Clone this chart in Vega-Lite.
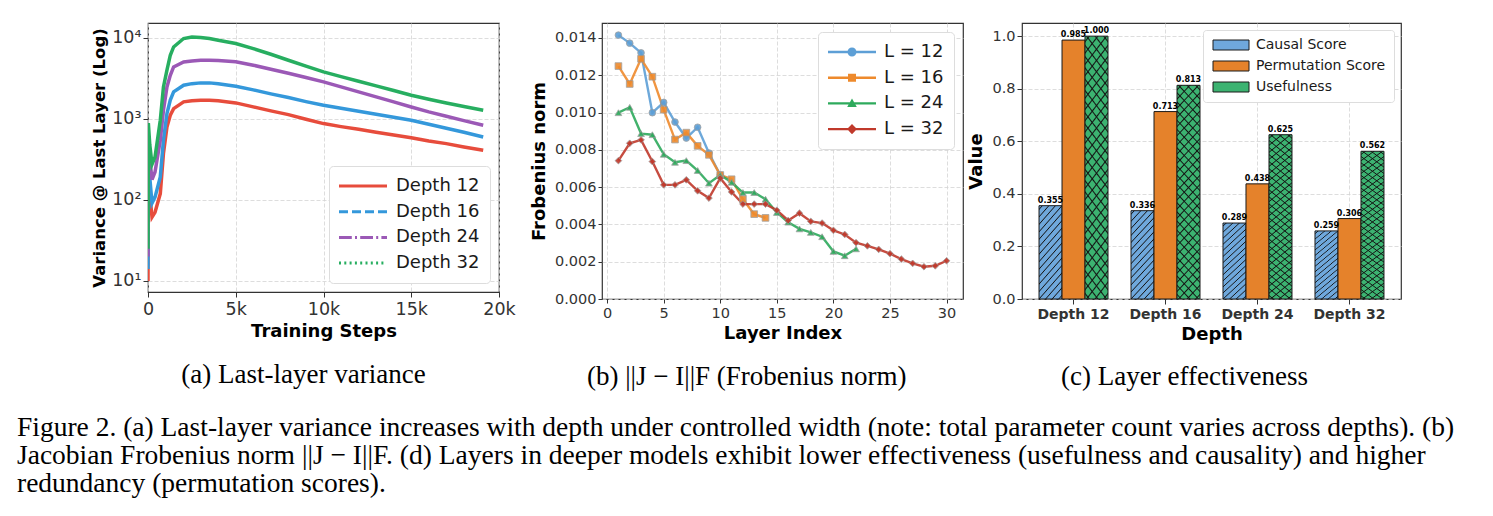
{
  "$schema": "https://vega.github.io/schema/vega-lite/v6.json",
  "background": "white",
  "padding": {"left": 17, "top": 22, "right": 8, "bottom": 6},
  "config": {
    "font": "DejaVu Sans",
    "view": {"stroke": "#333333", "strokeWidth": 1.2},
    "axis": {
      "domain": false, "grid": true, "gridColor": "#d4d4d4", "gridDash": [4, 2], "gridWidth": 0.8,
      "tickColor": "#333333", "tickSize": 5, "tickWidth": 1, "labelFlush": false,
      "labelColor": "#333333", "titleColor": "#000000", "titleFontWeight": "bold",
      "labelFont": "DejaVu Sans", "titleFont": "DejaVu Sans"
    },
    "legend": {"labelFont": "DejaVu Sans", "labelColor": "#1a1a1a"}
  },
  "title": {
    "text": [
      "Figure 2. (a) Last-layer variance increases with depth under controlled width (note: total parameter count varies across depths). (b)",
      "Jacobian Frobenius norm ||J − I||F. (d) Layers in deeper models exhibit lower effectiveness (usefulness and causality) and higher",
      "redundancy (permutation scores)."
    ],
    "orient": "bottom", "anchor": "start", "frame": "group", "dx": -131, "offset": 23,
    "font": "Liberation Serif", "fontSize": 27.5, "fontWeight": "normal", "lineHeight": 28, "color": "#000000"
  },
  "resolve": {"scale": {"color": "independent", "shape": "independent"}, "legend": {"color": "independent", "shape": "independent"}},
  "datasets": {
    "variance": [
      {"d": "Depth 12", "t": 0, "v": 10}, {"d": "Depth 12", "t": 20, "v": 250}, {"d": "Depth 12", "t": 100, "v": 120}, {"d": "Depth 12", "t": 228, "v": 61}, {"d": "Depth 12", "t": 400, "v": 70}, {"d": "Depth 12", "t": 700, "v": 119}, {"d": "Depth 12", "t": 880, "v": 371}, {"d": "Depth 12", "t": 1080, "v": 790}, {"d": "Depth 12", "t": 1270, "v": 1102}, {"d": "Depth 12", "t": 1460, "v": 1330}, {"d": "Depth 12", "t": 2030, "v": 1610}, {"d": "Depth 12", "t": 2500, "v": 1660}, {"d": "Depth 12", "t": 3000, "v": 1690}, {"d": "Depth 12", "t": 3500, "v": 1690}, {"d": "Depth 12", "t": 4000, "v": 1660}, {"d": "Depth 12", "t": 5000, "v": 1563}, {"d": "Depth 12", "t": 6000, "v": 1396}, {"d": "Depth 12", "t": 7000, "v": 1246}, {"d": "Depth 12", "t": 8000, "v": 1122}, {"d": "Depth 12", "t": 9000, "v": 984}, {"d": "Depth 12", "t": 10000, "v": 869}, {"d": "Depth 12", "t": 11000, "v": 798}, {"d": "Depth 12", "t": 12000, "v": 739}, {"d": "Depth 12", "t": 13000, "v": 679}, {"d": "Depth 12", "t": 14000, "v": 630}, {"d": "Depth 12", "t": 15000, "v": 583}, {"d": "Depth 12", "t": 16000, "v": 531}, {"d": "Depth 12", "t": 17000, "v": 492}, {"d": "Depth 12", "t": 18000, "v": 448}, {"d": "Depth 12", "t": 19100, "v": 407},
      {"d": "Depth 16", "t": 0, "v": 14}, {"d": "Depth 16", "t": 20, "v": 400}, {"d": "Depth 16", "t": 100, "v": 190}, {"d": "Depth 16", "t": 228, "v": 91}, {"d": "Depth 16", "t": 400, "v": 108}, {"d": "Depth 16", "t": 700, "v": 191}, {"d": "Depth 16", "t": 880, "v": 541}, {"d": "Depth 16", "t": 1080, "v": 1156}, {"d": "Depth 16", "t": 1270, "v": 1690}, {"d": "Depth 16", "t": 1460, "v": 2136}, {"d": "Depth 16", "t": 2030, "v": 2580}, {"d": "Depth 16", "t": 2500, "v": 2700}, {"d": "Depth 16", "t": 3000, "v": 2760}, {"d": "Depth 16", "t": 3500, "v": 2760}, {"d": "Depth 16", "t": 4000, "v": 2700}, {"d": "Depth 16", "t": 5000, "v": 2512}, {"d": "Depth 16", "t": 6000, "v": 2262}, {"d": "Depth 16", "t": 7000, "v": 2018}, {"d": "Depth 16", "t": 8000, "v": 1819}, {"d": "Depth 16", "t": 9000, "v": 1622}, {"d": "Depth 16", "t": 10000, "v": 1462}, {"d": "Depth 16", "t": 11000, "v": 1343}, {"d": "Depth 16", "t": 12000, "v": 1233}, {"d": "Depth 16", "t": 13000, "v": 1132}, {"d": "Depth 16", "t": 14000, "v": 1040}, {"d": "Depth 16", "t": 15000, "v": 955}, {"d": "Depth 16", "t": 16000, "v": 853}, {"d": "Depth 16", "t": 17000, "v": 762}, {"d": "Depth 16", "t": 18000, "v": 679}, {"d": "Depth 16", "t": 19100, "v": 595},
      {"d": "Depth 24", "t": 0, "v": 20}, {"d": "Depth 24", "t": 20, "v": 600}, {"d": "Depth 24", "t": 100, "v": 330}, {"d": "Depth 24", "t": 228, "v": 177}, {"d": "Depth 24", "t": 400, "v": 220}, {"d": "Depth 24", "t": 700, "v": 541}, {"d": "Depth 24", "t": 880, "v": 1270}, {"d": "Depth 24", "t": 1080, "v": 2460}, {"d": "Depth 24", "t": 1270, "v": 3425}, {"d": "Depth 24", "t": 1460, "v": 4340}, {"d": "Depth 24", "t": 2030, "v": 5000}, {"d": "Depth 24", "t": 2500, "v": 5150}, {"d": "Depth 24", "t": 3000, "v": 5250}, {"d": "Depth 24", "t": 3500, "v": 5250}, {"d": "Depth 24", "t": 4000, "v": 5200}, {"d": "Depth 24", "t": 5000, "v": 5012}, {"d": "Depth 24", "t": 6000, "v": 4560}, {"d": "Depth 24", "t": 7000, "v": 4070}, {"d": "Depth 24", "t": 8000, "v": 3630}, {"d": "Depth 24", "t": 9000, "v": 3210}, {"d": "Depth 24", "t": 10000, "v": 2837}, {"d": "Depth 24", "t": 11000, "v": 2460}, {"d": "Depth 24", "t": 12000, "v": 2138}, {"d": "Depth 24", "t": 13000, "v": 1854}, {"d": "Depth 24", "t": 14000, "v": 1607}, {"d": "Depth 24", "t": 15000, "v": 1393}, {"d": "Depth 24", "t": 16000, "v": 1211}, {"d": "Depth 24", "t": 17000, "v": 1069}, {"d": "Depth 24", "t": 18000, "v": 946}, {"d": "Depth 24", "t": 19100, "v": 828},
      {"d": "Depth 32", "t": 0, "v": 25}, {"d": "Depth 32", "t": 20, "v": 880}, {"d": "Depth 32", "t": 100, "v": 480}, {"d": "Depth 32", "t": 228, "v": 274}, {"d": "Depth 32", "t": 400, "v": 337}, {"d": "Depth 32", "t": 700, "v": 955}, {"d": "Depth 32", "t": 880, "v": 2460}, {"d": "Depth 32", "t": 1080, "v": 3953}, {"d": "Depth 32", "t": 1270, "v": 6050}, {"d": "Depth 32", "t": 1460, "v": 7650}, {"d": "Depth 32", "t": 2030, "v": 9720}, {"d": "Depth 32", "t": 2500, "v": 10150}, {"d": "Depth 32", "t": 3000, "v": 10000}, {"d": "Depth 32", "t": 3500, "v": 9700}, {"d": "Depth 32", "t": 4000, "v": 9270}, {"d": "Depth 32", "t": 5000, "v": 8430}, {"d": "Depth 32", "t": 6000, "v": 7310}, {"d": "Depth 32", "t": 7000, "v": 6220}, {"d": "Depth 32", "t": 8000, "v": 5250}, {"d": "Depth 32", "t": 9000, "v": 4430}, {"d": "Depth 32", "t": 10000, "v": 3770}, {"d": "Depth 32", "t": 11000, "v": 3300}, {"d": "Depth 32", "t": 12000, "v": 2890}, {"d": "Depth 32", "t": 13000, "v": 2535}, {"d": "Depth 32", "t": 14000, "v": 2220}, {"d": "Depth 32", "t": 15000, "v": 1945}, {"d": "Depth 32", "t": 16000, "v": 1735}, {"d": "Depth 32", "t": 17000, "v": 1563}, {"d": "Depth 32", "t": 18000, "v": 1410}, {"d": "Depth 32", "t": 19100, "v": 1270}
    ],
    "frobenius": [
      {"L": "L = 12", "layer": 1, "v": 0.01415}, {"L": "L = 12", "layer": 2, "v": 0.01372}, {"L": "L = 12", "layer": 3, "v": 0.0132}, {"L": "L = 12", "layer": 4, "v": 0.00999}, {"L": "L = 12", "layer": 5, "v": 0.01054}, {"L": "L = 12", "layer": 6, "v": 0.00949}, {"L": "L = 12", "layer": 7, "v": 0.00863}, {"L": "L = 12", "layer": 8, "v": 0.00921}, {"L": "L = 12", "layer": 9, "v": 0.00783}, {"L": "L = 12", "layer": 10, "v": 0.00665},
      {"L": "L = 16", "layer": 1, "v": 0.01249}, {"L": "L = 16", "layer": 2, "v": 0.01153}, {"L": "L = 16", "layer": 3, "v": 0.01288}, {"L": "L = 16", "layer": 4, "v": 0.01192}, {"L": "L = 16", "layer": 5, "v": 0.01015}, {"L": "L = 16", "layer": 6, "v": 0.00855}, {"L": "L = 16", "layer": 7, "v": 0.00892}, {"L": "L = 16", "layer": 8, "v": 0.00821}, {"L": "L = 16", "layer": 9, "v": 0.00773}, {"L": "L = 16", "layer": 10, "v": 0.00665}, {"L": "L = 16", "layer": 11, "v": 0.00642}, {"L": "L = 16", "layer": 12, "v": 0.00535}, {"L": "L = 16", "layer": 13, "v": 0.00455}, {"L": "L = 16", "layer": 14, "v": 0.00435},
      {"L": "L = 24", "layer": 1, "v": 0.00999}, {"L": "L = 24", "layer": 2, "v": 0.01028}, {"L": "L = 24", "layer": 3, "v": 0.00887}, {"L": "L = 24", "layer": 4, "v": 0.00881}, {"L": "L = 24", "layer": 5, "v": 0.00776}, {"L": "L = 24", "layer": 6, "v": 0.00733}, {"L": "L = 24", "layer": 7, "v": 0.00742}, {"L": "L = 24", "layer": 8, "v": 0.00689}, {"L": "L = 24", "layer": 9, "v": 0.00621}, {"L": "L = 24", "layer": 10, "v": 0.00665}, {"L": "L = 24", "layer": 11, "v": 0.00626}, {"L": "L = 24", "layer": 12, "v": 0.00571}, {"L": "L = 24", "layer": 13, "v": 0.00571}, {"L": "L = 24", "layer": 14, "v": 0.00535}, {"L": "L = 24", "layer": 15, "v": 0.00464}, {"L": "L = 24", "layer": 16, "v": 0.00412}, {"L": "L = 24", "layer": 17, "v": 0.00376}, {"L": "L = 24", "layer": 18, "v": 0.00357}, {"L": "L = 24", "layer": 19, "v": 0.00334}, {"L": "L = 24", "layer": 20, "v": 0.00255}, {"L": "L = 24", "layer": 21, "v": 0.00232}, {"L": "L = 24", "layer": 22, "v": 0.00269},
      {"L": "L = 32", "layer": 1, "v": 0.00742}, {"L": "L = 32", "layer": 2, "v": 0.00835}, {"L": "L = 32", "layer": 3, "v": 0.00853}, {"L": "L = 32", "layer": 4, "v": 0.00737}, {"L": "L = 32", "layer": 5, "v": 0.00612}, {"L": "L = 32", "layer": 6, "v": 0.00612}, {"L": "L = 32", "layer": 7, "v": 0.00639}, {"L": "L = 32", "layer": 8, "v": 0.0058}, {"L": "L = 32", "layer": 9, "v": 0.00541}, {"L": "L = 32", "layer": 10, "v": 0.00648}, {"L": "L = 32", "layer": 11, "v": 0.00574}, {"L": "L = 32", "layer": 12, "v": 0.00509}, {"L": "L = 32", "layer": 13, "v": 0.00509}, {"L": "L = 32", "layer": 14, "v": 0.00509}, {"L": "L = 32", "layer": 15, "v": 0.00476}, {"L": "L = 32", "layer": 16, "v": 0.00421}, {"L": "L = 32", "layer": 17, "v": 0.0046}, {"L": "L = 32", "layer": 18, "v": 0.00416}, {"L": "L = 32", "layer": 19, "v": 0.00407}, {"L": "L = 32", "layer": 20, "v": 0.00368}, {"L": "L = 32", "layer": 21, "v": 0.00346}, {"L": "L = 32", "layer": 22, "v": 0.00302}, {"L": "L = 32", "layer": 23, "v": 0.00285}, {"L": "L = 32", "layer": 24, "v": 0.00266}, {"L": "L = 32", "layer": 25, "v": 0.00243}, {"L": "L = 32", "layer": 26, "v": 0.00214}, {"L": "L = 32", "layer": 27, "v": 0.00191}, {"L": "L = 32", "layer": 28, "v": 0.00173}, {"L": "L = 32", "layer": 29, "v": 0.00178}, {"L": "L = 32", "layer": 30, "v": 0.00205}
    ],
    "effectiveness": [
      {"depth": "Depth 12", "metric": "Causal Score", "value": 0.355}, {"depth": "Depth 12", "metric": "Permutation Score", "value": 0.985}, {"depth": "Depth 12", "metric": "Usefulness", "value": 1.0},
      {"depth": "Depth 16", "metric": "Causal Score", "value": 0.336}, {"depth": "Depth 16", "metric": "Permutation Score", "value": 0.713}, {"depth": "Depth 16", "metric": "Usefulness", "value": 0.813},
      {"depth": "Depth 24", "metric": "Causal Score", "value": 0.289}, {"depth": "Depth 24", "metric": "Permutation Score", "value": 0.438}, {"depth": "Depth 24", "metric": "Usefulness", "value": 0.625},
      {"depth": "Depth 32", "metric": "Causal Score", "value": 0.259}, {"depth": "Depth 32", "metric": "Permutation Score", "value": 0.306}, {"depth": "Depth 32", "metric": "Usefulness", "value": 0.562}
    ]
  },
  "spacing": 13,
  "hconcat": [
    {
      "width": 351,
      "height": 269,
      "title": {"text": "(a) Last-layer variance", "orient": "bottom", "anchor": "middle", "frame": "bounds", "offset": 21, "font": "Liberation Serif", "fontSize": 27, "fontWeight": "normal", "color": "#000000"},
      "data": {"name": "variance"},
      "encoding": {
        "x": {"field": "t", "type": "quantitative",
          "scale": {"domain": [0, 20000], "nice": false, "zero": false},
          "axis": {"values": [0, 5000, 10000, 15000, 20000], "labelExpr": "datum.value == 0 ? '0' : (datum.value / 1000) + 'k'", "title": "Training Steps", "labelFontSize": 17.5, "titleFontSize": 18, "labelPadding": 3, "titlePadding": 5}},
        "y": {"field": "v", "type": "quantitative",
          "scale": {"type": "log", "domain": [7.3, 15100], "nice": false},
          "axis": {"values": [10, 100, 1000, 10000], "labelExpr": "datum.value == 10 ? '10¹' : datum.value == 100 ? '10²' : datum.value == 1000 ? '10³' : '10⁴'", "title": "Variance @ Last Layer (Log)", "labelFontSize": 17.5, "titleFontSize": 16.5, "titlePadding": 4}}
      },
      "layer": [
        {
          "mark": {"type": "line", "strokeWidth": 3.5, "clip": true},
          "encoding": {
            "color": {"field": "d", "type": "nominal",
              "scale": {"domain": ["Depth 12", "Depth 16", "Depth 24", "Depth 32"], "range": ["#e74c3c", "#3498db", "#9b59b6", "#27ae60"]},
              "legend": null}
          }
        },
        {
          "transform": [{"filter": "false"}],
          "mark": {"type": "point", "filled": true, "size": 400, "opacity": 1},
          "encoding": {
            "color": {"field": "d", "type": "nominal",
              "scale": {"domain": ["Depth 12", "Depth 16", "Depth 24", "Depth 32"], "range": ["#e74c3c", "#3498db", "#9b59b6", "#27ae60"]},
              "legend": {"title": null, "orient": "bottom-right", "offset": 9, "fillColor": "white", "strokeColor": "#dddddd", "cornerRadius": 4, "padding": 10, "labelFontSize": 18, "symbolSize": 400, "symbolOpacity": 1, "symbolStrokeWidth": 0, "labelOffset": 37, "rowPadding": 6.7}},
            "shape": {"field": "d", "type": "nominal",
              "scale": {"domain": ["Depth 12", "Depth 16", "Depth 24", "Depth 32"],
                "range": [
                  "M-1,-0.15H3.8V0.15H-1Z",
                  "M-1,-0.15H-0.1V0.15H-1ZM0.3,-0.15H1.2V0.15H0.3ZM1.6,-0.15H2.5V0.15H1.6ZM2.9,-0.15H3.8V0.15H2.9Z",
                  "M-1,-0.15H0.28V0.15H-1ZM0.6,-0.15H0.8V0.15H0.6ZM1.12,-0.15H2.4V0.15H1.12ZM2.72,-0.15H2.92V0.15H2.72ZM3.24,-0.15H3.8V0.15H3.24Z",
                  "M-1,-0.15H-0.8V0.15H-1ZM-0.47,-0.15H-0.27V0.15H-0.47ZM0.06,-0.15H0.26V0.15H0.06ZM0.59,-0.15H0.79V0.15H0.59ZM1.12,-0.15H1.32V0.15H1.12ZM1.65,-0.15H1.85V0.15H1.65ZM2.18,-0.15H2.38V0.15H2.18ZM2.71,-0.15H2.91V0.15H2.71ZM3.24,-0.15H3.44V0.15H3.24Z"
                ]}}
          }
        }
      ],
      "resolve": {"scale": {"color": "independent", "shape": "independent"}}
    },
    {
      "spacing": 3,
      "resolve": {"scale": {"color": "independent", "shape": "independent"}, "legend": {"color": "independent", "shape": "independent"}},
      "hconcat": [
        {
          "width": 361,
          "height": 276,
          "title": {"text": "(b) ||J − I||F (Frobenius norm)", "orient": "bottom", "anchor": "middle", "frame": "bounds", "offset": 21, "font": "Liberation Serif", "fontSize": 27, "fontWeight": "normal", "color": "#000000"},
          "data": {"name": "frobenius"},
          "encoding": {
            "x": {"field": "layer", "type": "quantitative",
              "scale": {"domain": [-0.45, 31.45], "nice": false, "zero": false},
              "axis": {"values": [0, 5, 10, 15, 20, 25, 30], "title": "Layer Index", "labelFontSize": 14.5, "titleFontSize": 18, "tickSize": 4, "labelPadding": 3, "titlePadding": 5}},
            "y": {"field": "v", "type": "quantitative",
              "scale": {"domain": [0, 0.0148], "nice": false},
              "axis": {"values": [0, 0.002, 0.004, 0.006, 0.008, 0.01, 0.012, 0.014], "format": ".3f", "title": "Frobenius norm", "labelFontSize": 14.5, "titleFontSize": 18, "tickSize": 4, "titlePadding": 6}}
          },
          "layer": [
            {
              "mark": {"type": "line", "strokeWidth": 2.4, "opacity": 0.9},
              "encoding": {
                "color": {"field": "L", "type": "nominal",
                  "scale": {"domain": ["L = 12", "L = 16", "L = 24", "L = 32"], "range": ["#5d9fd6", "#ee8a2c", "#2eaa5c", "#c0392b"]},
                  "legend": null}
              }
            },
            {
              "mark": {"type": "point", "filled": true, "size": 45, "opacity": 0.9, "stroke": "#999999", "strokeWidth": 0.8},
              "encoding": {
                "color": {"field": "L", "type": "nominal",
                  "scale": {"domain": ["L = 12", "L = 16", "L = 24", "L = 32"], "range": ["#5d9fd6", "#ee8a2c", "#2eaa5c", "#c0392b"]},
                  "legend": null},
                "shape": {"field": "L", "type": "nominal",
                  "scale": {"domain": ["L = 12", "L = 16", "L = 24", "L = 32"], "range": ["circle", "square", "triangle-up", "diamond"]},
                  "legend": null}
              }
            },
            {
              "transform": [{"filter": "false"}],
              "mark": {"type": "point", "filled": true, "size": 400, "opacity": 1},
              "encoding": {
                "color": {"field": "L", "type": "nominal",
                  "scale": {"domain": ["L = 12", "L = 16", "L = 24", "L = 32"], "range": ["#5d9fd6", "#ee8a2c", "#2eaa5c", "#c0392b"]},
                  "legend": {"title": null, "orient": "top-right", "offset": 9, "fillColor": "white", "strokeColor": "#dddddd", "cornerRadius": 4, "padding": 10, "labelFontSize": 18, "symbolSize": 400, "symbolOpacity": 1, "symbolStrokeWidth": 0, "labelOffset": 36, "rowPadding": 6.7}},
                "shape": {"field": "L", "type": "nominal",
                  "scale": {"domain": ["L = 12", "L = 16", "L = 24", "L = 32"],
                    "range": [
                      "M-1,-0.12H3.8V0.12H-1ZM1.85,0A0.45,0.45 0 1,1 0.95,0A0.45,0.45 0 1,1 1.85,0Z",
                      "M-1,-0.12H3.8V0.12H-1ZM1.0,-0.4H1.8V0.4H1.0Z",
                      "M-1,-0.12H3.8V0.12H-1ZM1.4,-0.48L1.88,0.36H0.92Z",
                      "M-1,-0.12H3.8V0.12H-1ZM1.4,-0.52L1.9,0L1.4,0.52L0.9,0Z"
                    ]}}
              }
            }
          ],
          "resolve": {"scale": {"color": "independent", "shape": "independent"}}
        },
        {
          "width": 379,
          "height": 276,
          "title": {"text": "(c) Layer effectiveness", "orient": "bottom", "anchor": "middle", "frame": "bounds", "offset": 21, "font": "Liberation Serif", "fontSize": 27, "fontWeight": "normal", "color": "#000000"},
          "data": {"name": "effectiveness"},
          "encoding": {
            "x": {"field": "depth", "type": "nominal", "sort": ["Depth 12", "Depth 16", "Depth 24", "Depth 32"],
              "scale": {"paddingInner": 0.25, "paddingOuter": 0.185},
              "axis": {"title": "Depth", "labelAngle": 0, "labelFontWeight": "bold", "labelFontSize": 14, "titleFontSize": 18, "grid": true, "labelPadding": 3, "titlePadding": 4}},
            "xOffset": {"field": "metric", "type": "nominal", "sort": ["Causal Score", "Permutation Score", "Usefulness"],
              "scale": {"paddingInner": 0, "paddingOuter": 0}},
            "y": {"field": "value", "type": "quantitative",
              "scale": {"domain": [0, 1.05], "nice": false},
              "axis": {"values": [0, 0.2, 0.4, 0.6, 0.8, 1.0], "format": ".1f", "title": "Value", "labelFontSize": 14.5, "titleFontSize": 18, "titlePadding": 6}}
          },
          "layer": [
            {
              "mark": {"type": "bar", "stroke": "#1a1a1a", "strokeWidth": 1},
              "encoding": {
                "color": {"field": "metric", "type": "nominal",
                  "scale": {"domain": ["Causal Score", "Permutation Score", "Usefulness"], "range": ["#6fa8dc", "#e5822b", "#3cb371"]},
                  "legend": {"title": null, "orient": "top-right", "offset": 7, "fillColor": "white", "strokeColor": "#dddddd", "cornerRadius": 3, "padding": 8, "labelFontSize": 14, "symbolType": "M-1,-1H6.2V1H-1Z", "symbolSize": 100, "symbolStrokeColor": "#1a1a1a", "symbolStrokeWidth": 1, "symbolOpacity": 1, "labelOffset": 31, "rowPadding": 7}}
              }
            },
            {
              "transform": [{"filter": "datum.metric == 'Causal Score'"}],
              "mark": {"type": "bar", "strokeWidth": 0,
                "fill": {"gradient": "linear", "x1": 0, "y1": 0, "x2": 0.333, "y2": 1.187, "stops": [
                  {"offset": 0, "color": "rgba(20,20,20,0)"},
                  {"offset": 0.02125, "color": "rgba(20,20,20,0)"}, {"offset": 0.03125, "color": "rgba(20,20,20,1)"}, {"offset": 0.04125, "color": "rgba(20,20,20,0)"},
                  {"offset": 0.08375, "color": "rgba(20,20,20,0)"}, {"offset": 0.09375, "color": "rgba(20,20,20,1)"}, {"offset": 0.10375, "color": "rgba(20,20,20,0)"},
                  {"offset": 0.14625, "color": "rgba(20,20,20,0)"}, {"offset": 0.15625, "color": "rgba(20,20,20,1)"}, {"offset": 0.16625, "color": "rgba(20,20,20,0)"},
                  {"offset": 0.20875, "color": "rgba(20,20,20,0)"}, {"offset": 0.21875, "color": "rgba(20,20,20,1)"}, {"offset": 0.22875, "color": "rgba(20,20,20,0)"},
                  {"offset": 0.27125, "color": "rgba(20,20,20,0)"}, {"offset": 0.28125, "color": "rgba(20,20,20,1)"}, {"offset": 0.29125, "color": "rgba(20,20,20,0)"},
                  {"offset": 0.33375, "color": "rgba(20,20,20,0)"}, {"offset": 0.34375, "color": "rgba(20,20,20,1)"}, {"offset": 0.35375, "color": "rgba(20,20,20,0)"},
                  {"offset": 0.39625, "color": "rgba(20,20,20,0)"}, {"offset": 0.40625, "color": "rgba(20,20,20,1)"}, {"offset": 0.41625, "color": "rgba(20,20,20,0)"},
                  {"offset": 0.45875, "color": "rgba(20,20,20,0)"}, {"offset": 0.46875, "color": "rgba(20,20,20,1)"}, {"offset": 0.47875, "color": "rgba(20,20,20,0)"},
                  {"offset": 0.52125, "color": "rgba(20,20,20,0)"}, {"offset": 0.53125, "color": "rgba(20,20,20,1)"}, {"offset": 0.54125, "color": "rgba(20,20,20,0)"},
                  {"offset": 0.58375, "color": "rgba(20,20,20,0)"}, {"offset": 0.59375, "color": "rgba(20,20,20,1)"}, {"offset": 0.60375, "color": "rgba(20,20,20,0)"},
                  {"offset": 0.64625, "color": "rgba(20,20,20,0)"}, {"offset": 0.65625, "color": "rgba(20,20,20,1)"}, {"offset": 0.66625, "color": "rgba(20,20,20,0)"},
                  {"offset": 0.70875, "color": "rgba(20,20,20,0)"}, {"offset": 0.71875, "color": "rgba(20,20,20,1)"}, {"offset": 0.72875, "color": "rgba(20,20,20,0)"},
                  {"offset": 0.77125, "color": "rgba(20,20,20,0)"}, {"offset": 0.78125, "color": "rgba(20,20,20,1)"}, {"offset": 0.79125, "color": "rgba(20,20,20,0)"},
                  {"offset": 0.83375, "color": "rgba(20,20,20,0)"}, {"offset": 0.84375, "color": "rgba(20,20,20,1)"}, {"offset": 0.85375, "color": "rgba(20,20,20,0)"},
                  {"offset": 0.89625, "color": "rgba(20,20,20,0)"}, {"offset": 0.90625, "color": "rgba(20,20,20,1)"}, {"offset": 0.91625, "color": "rgba(20,20,20,0)"},
                  {"offset": 0.95875, "color": "rgba(20,20,20,0)"}, {"offset": 0.96875, "color": "rgba(20,20,20,1)"}, {"offset": 0.97875, "color": "rgba(20,20,20,0)"},
                  {"offset": 1, "color": "rgba(20,20,20,0)"}
                ]}},
              "encoding": {}
            },
            {
              "transform": [{"filter": "datum.metric == 'Usefulness'"}],
              "mark": {"type": "bar", "strokeWidth": 0,
                "fill": {"gradient": "linear", "x1": 0, "y1": 0, "x2": 0.1266, "y2": 1.1004, "stops": [
                  {"offset": 0, "color": "rgba(20,20,20,0)"},
                  {"offset": 0.0132, "color": "rgba(20,20,20,0)"}, {"offset": 0.0192, "color": "rgba(20,20,20,1)"}, {"offset": 0.0252, "color": "rgba(20,20,20,0)"},
                  {"offset": 0.0517, "color": "rgba(20,20,20,0)"}, {"offset": 0.0577, "color": "rgba(20,20,20,1)"}, {"offset": 0.0637, "color": "rgba(20,20,20,0)"},
                  {"offset": 0.0902, "color": "rgba(20,20,20,0)"}, {"offset": 0.0962, "color": "rgba(20,20,20,1)"}, {"offset": 0.1022, "color": "rgba(20,20,20,0)"},
                  {"offset": 0.1286, "color": "rgba(20,20,20,0)"}, {"offset": 0.1346, "color": "rgba(20,20,20,1)"}, {"offset": 0.1406, "color": "rgba(20,20,20,0)"},
                  {"offset": 0.1671, "color": "rgba(20,20,20,0)"}, {"offset": 0.1731, "color": "rgba(20,20,20,1)"}, {"offset": 0.1791, "color": "rgba(20,20,20,0)"},
                  {"offset": 0.2055, "color": "rgba(20,20,20,0)"}, {"offset": 0.2115, "color": "rgba(20,20,20,1)"}, {"offset": 0.2175, "color": "rgba(20,20,20,0)"},
                  {"offset": 0.244, "color": "rgba(20,20,20,0)"}, {"offset": 0.25, "color": "rgba(20,20,20,1)"}, {"offset": 0.256, "color": "rgba(20,20,20,0)"},
                  {"offset": 0.2825, "color": "rgba(20,20,20,0)"}, {"offset": 0.2885, "color": "rgba(20,20,20,1)"}, {"offset": 0.2945, "color": "rgba(20,20,20,0)"},
                  {"offset": 0.3209, "color": "rgba(20,20,20,0)"}, {"offset": 0.3269, "color": "rgba(20,20,20,1)"}, {"offset": 0.3329, "color": "rgba(20,20,20,0)"},
                  {"offset": 0.3594, "color": "rgba(20,20,20,0)"}, {"offset": 0.3654, "color": "rgba(20,20,20,1)"}, {"offset": 0.3714, "color": "rgba(20,20,20,0)"},
                  {"offset": 0.3978, "color": "rgba(20,20,20,0)"}, {"offset": 0.4038, "color": "rgba(20,20,20,1)"}, {"offset": 0.4098, "color": "rgba(20,20,20,0)"},
                  {"offset": 0.4363, "color": "rgba(20,20,20,0)"}, {"offset": 0.4423, "color": "rgba(20,20,20,1)"}, {"offset": 0.4483, "color": "rgba(20,20,20,0)"},
                  {"offset": 0.4748, "color": "rgba(20,20,20,0)"}, {"offset": 0.4808, "color": "rgba(20,20,20,1)"}, {"offset": 0.4868, "color": "rgba(20,20,20,0)"},
                  {"offset": 0.5132, "color": "rgba(20,20,20,0)"}, {"offset": 0.5192, "color": "rgba(20,20,20,1)"}, {"offset": 0.5252, "color": "rgba(20,20,20,0)"},
                  {"offset": 0.5517, "color": "rgba(20,20,20,0)"}, {"offset": 0.5577, "color": "rgba(20,20,20,1)"}, {"offset": 0.5637, "color": "rgba(20,20,20,0)"},
                  {"offset": 0.5902, "color": "rgba(20,20,20,0)"}, {"offset": 0.5962, "color": "rgba(20,20,20,1)"}, {"offset": 0.6022, "color": "rgba(20,20,20,0)"},
                  {"offset": 0.6286, "color": "rgba(20,20,20,0)"}, {"offset": 0.6346, "color": "rgba(20,20,20,1)"}, {"offset": 0.6406, "color": "rgba(20,20,20,0)"},
                  {"offset": 0.6671, "color": "rgba(20,20,20,0)"}, {"offset": 0.6731, "color": "rgba(20,20,20,1)"}, {"offset": 0.6791, "color": "rgba(20,20,20,0)"},
                  {"offset": 0.7055, "color": "rgba(20,20,20,0)"}, {"offset": 0.7115, "color": "rgba(20,20,20,1)"}, {"offset": 0.7175, "color": "rgba(20,20,20,0)"},
                  {"offset": 0.744, "color": "rgba(20,20,20,0)"}, {"offset": 0.75, "color": "rgba(20,20,20,1)"}, {"offset": 0.756, "color": "rgba(20,20,20,0)"},
                  {"offset": 0.7825, "color": "rgba(20,20,20,0)"}, {"offset": 0.7885, "color": "rgba(20,20,20,1)"}, {"offset": 0.7945, "color": "rgba(20,20,20,0)"},
                  {"offset": 0.8209, "color": "rgba(20,20,20,0)"}, {"offset": 0.8269, "color": "rgba(20,20,20,1)"}, {"offset": 0.8329, "color": "rgba(20,20,20,0)"},
                  {"offset": 0.8594, "color": "rgba(20,20,20,0)"}, {"offset": 0.8654, "color": "rgba(20,20,20,1)"}, {"offset": 0.8714, "color": "rgba(20,20,20,0)"},
                  {"offset": 0.8978, "color": "rgba(20,20,20,0)"}, {"offset": 0.9038, "color": "rgba(20,20,20,1)"}, {"offset": 0.9098, "color": "rgba(20,20,20,0)"},
                  {"offset": 0.9363, "color": "rgba(20,20,20,0)"}, {"offset": 0.9423, "color": "rgba(20,20,20,1)"}, {"offset": 0.9483, "color": "rgba(20,20,20,0)"},
                  {"offset": 0.9748, "color": "rgba(20,20,20,0)"}, {"offset": 0.9808, "color": "rgba(20,20,20,1)"}, {"offset": 0.9868, "color": "rgba(20,20,20,0)"},
                  {"offset": 1, "color": "rgba(20,20,20,0)"}
                ]}},
              "encoding": {}
            },
            {
              "transform": [{"filter": "datum.metric == 'Usefulness'"}],
              "mark": {"type": "bar", "strokeWidth": 0,
                "fill": {"gradient": "linear", "x1": 0, "y1": 1, "x2": 0.1266, "y2": -0.1004, "stops": [
                  {"offset": 0, "color": "rgba(20,20,20,0)"},
                  {"offset": 0.0132, "color": "rgba(20,20,20,0)"}, {"offset": 0.0192, "color": "rgba(20,20,20,1)"}, {"offset": 0.0252, "color": "rgba(20,20,20,0)"},
                  {"offset": 0.0517, "color": "rgba(20,20,20,0)"}, {"offset": 0.0577, "color": "rgba(20,20,20,1)"}, {"offset": 0.0637, "color": "rgba(20,20,20,0)"},
                  {"offset": 0.0902, "color": "rgba(20,20,20,0)"}, {"offset": 0.0962, "color": "rgba(20,20,20,1)"}, {"offset": 0.1022, "color": "rgba(20,20,20,0)"},
                  {"offset": 0.1286, "color": "rgba(20,20,20,0)"}, {"offset": 0.1346, "color": "rgba(20,20,20,1)"}, {"offset": 0.1406, "color": "rgba(20,20,20,0)"},
                  {"offset": 0.1671, "color": "rgba(20,20,20,0)"}, {"offset": 0.1731, "color": "rgba(20,20,20,1)"}, {"offset": 0.1791, "color": "rgba(20,20,20,0)"},
                  {"offset": 0.2055, "color": "rgba(20,20,20,0)"}, {"offset": 0.2115, "color": "rgba(20,20,20,1)"}, {"offset": 0.2175, "color": "rgba(20,20,20,0)"},
                  {"offset": 0.244, "color": "rgba(20,20,20,0)"}, {"offset": 0.25, "color": "rgba(20,20,20,1)"}, {"offset": 0.256, "color": "rgba(20,20,20,0)"},
                  {"offset": 0.2825, "color": "rgba(20,20,20,0)"}, {"offset": 0.2885, "color": "rgba(20,20,20,1)"}, {"offset": 0.2945, "color": "rgba(20,20,20,0)"},
                  {"offset": 0.3209, "color": "rgba(20,20,20,0)"}, {"offset": 0.3269, "color": "rgba(20,20,20,1)"}, {"offset": 0.3329, "color": "rgba(20,20,20,0)"},
                  {"offset": 0.3594, "color": "rgba(20,20,20,0)"}, {"offset": 0.3654, "color": "rgba(20,20,20,1)"}, {"offset": 0.3714, "color": "rgba(20,20,20,0)"},
                  {"offset": 0.3978, "color": "rgba(20,20,20,0)"}, {"offset": 0.4038, "color": "rgba(20,20,20,1)"}, {"offset": 0.4098, "color": "rgba(20,20,20,0)"},
                  {"offset": 0.4363, "color": "rgba(20,20,20,0)"}, {"offset": 0.4423, "color": "rgba(20,20,20,1)"}, {"offset": 0.4483, "color": "rgba(20,20,20,0)"},
                  {"offset": 0.4748, "color": "rgba(20,20,20,0)"}, {"offset": 0.4808, "color": "rgba(20,20,20,1)"}, {"offset": 0.4868, "color": "rgba(20,20,20,0)"},
                  {"offset": 0.5132, "color": "rgba(20,20,20,0)"}, {"offset": 0.5192, "color": "rgba(20,20,20,1)"}, {"offset": 0.5252, "color": "rgba(20,20,20,0)"},
                  {"offset": 0.5517, "color": "rgba(20,20,20,0)"}, {"offset": 0.5577, "color": "rgba(20,20,20,1)"}, {"offset": 0.5637, "color": "rgba(20,20,20,0)"},
                  {"offset": 0.5902, "color": "rgba(20,20,20,0)"}, {"offset": 0.5962, "color": "rgba(20,20,20,1)"}, {"offset": 0.6022, "color": "rgba(20,20,20,0)"},
                  {"offset": 0.6286, "color": "rgba(20,20,20,0)"}, {"offset": 0.6346, "color": "rgba(20,20,20,1)"}, {"offset": 0.6406, "color": "rgba(20,20,20,0)"},
                  {"offset": 0.6671, "color": "rgba(20,20,20,0)"}, {"offset": 0.6731, "color": "rgba(20,20,20,1)"}, {"offset": 0.6791, "color": "rgba(20,20,20,0)"},
                  {"offset": 0.7055, "color": "rgba(20,20,20,0)"}, {"offset": 0.7115, "color": "rgba(20,20,20,1)"}, {"offset": 0.7175, "color": "rgba(20,20,20,0)"},
                  {"offset": 0.744, "color": "rgba(20,20,20,0)"}, {"offset": 0.75, "color": "rgba(20,20,20,1)"}, {"offset": 0.756, "color": "rgba(20,20,20,0)"},
                  {"offset": 0.7825, "color": "rgba(20,20,20,0)"}, {"offset": 0.7885, "color": "rgba(20,20,20,1)"}, {"offset": 0.7945, "color": "rgba(20,20,20,0)"},
                  {"offset": 0.8209, "color": "rgba(20,20,20,0)"}, {"offset": 0.8269, "color": "rgba(20,20,20,1)"}, {"offset": 0.8329, "color": "rgba(20,20,20,0)"},
                  {"offset": 0.8594, "color": "rgba(20,20,20,0)"}, {"offset": 0.8654, "color": "rgba(20,20,20,1)"}, {"offset": 0.8714, "color": "rgba(20,20,20,0)"},
                  {"offset": 0.8978, "color": "rgba(20,20,20,0)"}, {"offset": 0.9038, "color": "rgba(20,20,20,1)"}, {"offset": 0.9098, "color": "rgba(20,20,20,0)"},
                  {"offset": 0.9363, "color": "rgba(20,20,20,0)"}, {"offset": 0.9423, "color": "rgba(20,20,20,1)"}, {"offset": 0.9483, "color": "rgba(20,20,20,0)"},
                  {"offset": 0.9748, "color": "rgba(20,20,20,0)"}, {"offset": 0.9808, "color": "rgba(20,20,20,1)"}, {"offset": 0.9868, "color": "rgba(20,20,20,0)"},
                  {"offset": 1, "color": "rgba(20,20,20,0)"}
                ]}},
              "encoding": {}
            },
            {
              "mark": {"type": "text", "baseline": "bottom", "dy": -1, "fontSize": 8, "fontWeight": "bold", "color": "#000000"},
              "encoding": {"text": {"field": "value", "type": "quantitative", "format": ".3f"}}
            }
          ]
        }
      ]
    }
  ]
}
